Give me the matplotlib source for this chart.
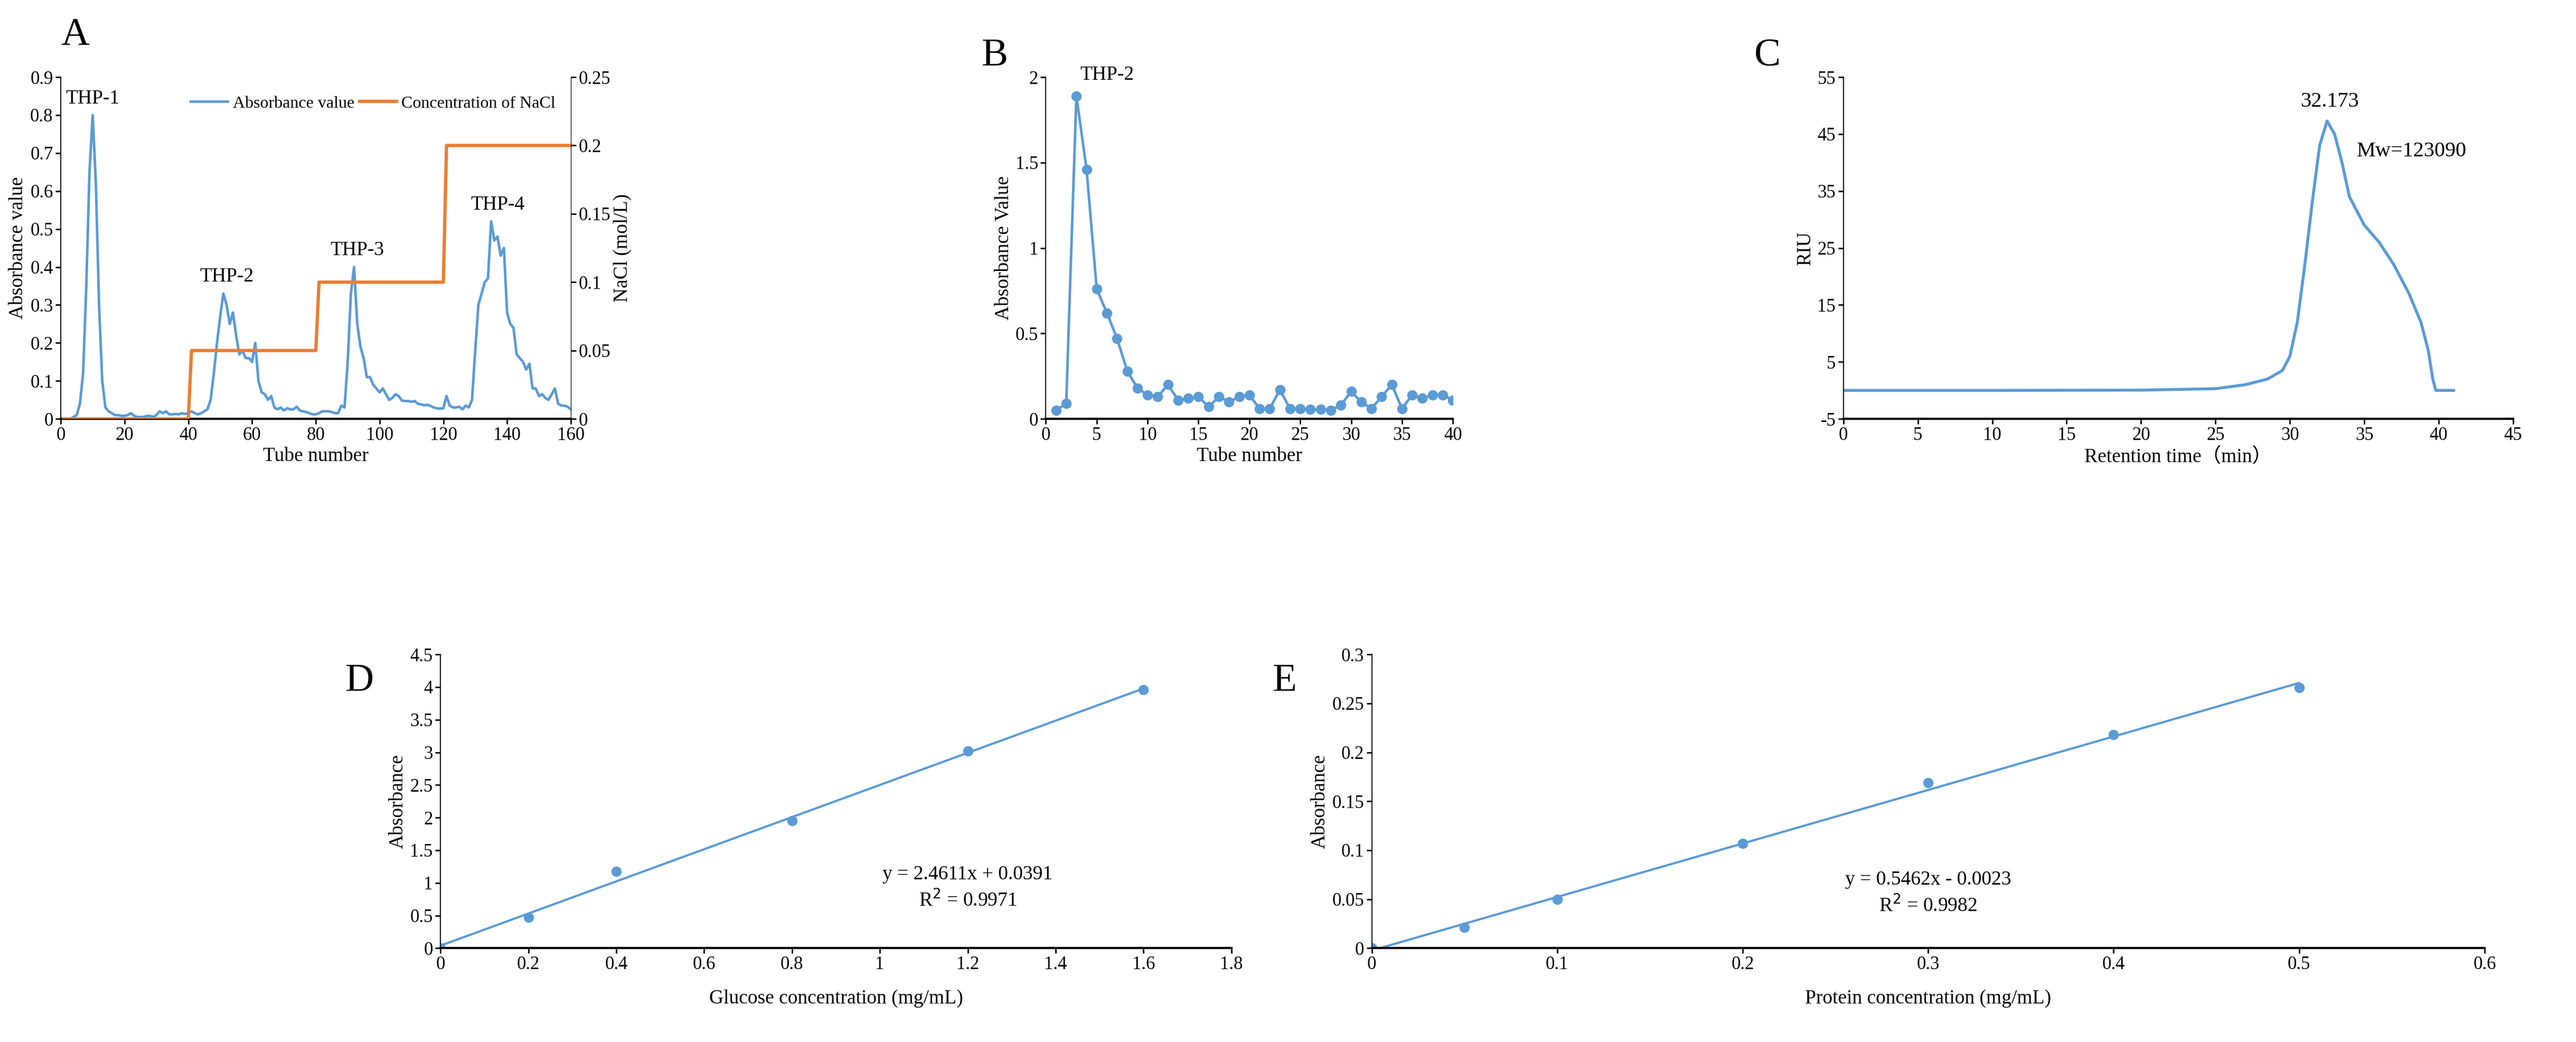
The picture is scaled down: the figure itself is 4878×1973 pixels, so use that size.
import numpy as np
import matplotlib
matplotlib.use('Agg')
import matplotlib.pyplot as plt

plt.rcParams['font.family'] = ['Liberation Serif', 'DejaVu Serif']
plt.rcParams['font.size'] = 24
plt.rcParams['axes.unicode_minus'] = False

BLUE = '#5B9BD5'
ORANGE = '#ED7D31'

# panel A: ion exchange elution
tube_a = np.arange(0, 161)
abs_a = [0.0, 0.0, 0.0, 0.0, 0.005, 0.01, 0.04, 0.12, 0.35, 0.65,
         0.80, 0.62, 0.30, 0.10, 0.03, 0.02, 0.015, 0.01, 0.01, 0.008,
         0.008, 0.01, 0.015, 0.008, 0.005, 0.005, 0.005, 0.008, 0.008, 0.005,
         0.01, 0.02, 0.015, 0.02, 0.012, 0.012, 0.013, 0.012, 0.015, 0.013,
         0.015, 0.02, 0.015, 0.012, 0.015, 0.02, 0.025, 0.05, 0.12, 0.20,
         0.27, 0.33, 0.30, 0.25, 0.28, 0.22, 0.17, 0.18, 0.16, 0.16,
         0.15, 0.20, 0.10, 0.07, 0.065, 0.05, 0.06, 0.03, 0.025, 0.03,
         0.022, 0.028, 0.025, 0.025, 0.032, 0.022, 0.02, 0.018, 0.015, 0.012,
         0.012, 0.015, 0.02, 0.02, 0.02, 0.018, 0.015, 0.015, 0.035, 0.03,
         0.15, 0.33, 0.40, 0.25, 0.19, 0.16, 0.11, 0.11, 0.09, 0.08,
         0.07, 0.08, 0.065, 0.05, 0.055, 0.065, 0.06, 0.048, 0.047, 0.047,
         0.045, 0.047, 0.04, 0.038, 0.036, 0.037, 0.034, 0.03, 0.028, 0.027,
         0.028, 0.06, 0.035, 0.03, 0.03, 0.032, 0.025, 0.035, 0.03, 0.05,
         0.18, 0.30, 0.33, 0.36, 0.37, 0.52, 0.47, 0.48, 0.43, 0.45,
         0.28, 0.25, 0.24, 0.17, 0.16, 0.15, 0.13, 0.145, 0.08, 0.08,
         0.06, 0.065, 0.055, 0.05, 0.065, 0.08, 0.04, 0.035, 0.035, 0.032,
         0.025]
nacl_tube = [1, 40, 41, 80, 81, 120, 121, 160]
nacl_conc = [0, 0, 0.05, 0.05, 0.1, 0.1, 0.2, 0.2]
peak_names = ['THP-1', 'THP-2', 'THP-3', 'THP-4']
peak_pos = [(10, 0.82), (52, 0.35), (93, 0.42), (137, 0.54)]

# panel B
tube_b = np.arange(1, 41)
abs_b = [0.05, 0.09, 1.89, 1.46, 0.76, 0.62, 0.47, 0.28, 0.18, 0.14,
         0.13, 0.20, 0.11, 0.12, 0.13, 0.07, 0.13, 0.10, 0.13, 0.14,
         0.06, 0.06, 0.17, 0.06, 0.06, 0.055, 0.055, 0.05, 0.08, 0.16,
         0.10, 0.06, 0.13, 0.20, 0.06, 0.14, 0.12, 0.14, 0.14, 0.11]

# panel C
time_c = [0, 10, 20, 25, 27, 28.5, 29.5, 30, 30.5, 31, 31.5, 32, 32.5, 33,
          33.5, 34, 35, 36, 37, 38, 38.8, 39.3, 39.6, 39.8, 41]
riu_c = [0, 0, 0.05, 0.3, 1, 2, 3.5, 6, 12, 22, 33, 43, 47.3, 45,
         40, 34, 29, 26, 22, 17, 12, 7, 2, 0, 0]

# panel D
glc_x = [0, 0.2, 0.4, 0.8, 1.2, 1.6]
glc_y = [0.0, 0.47, 1.18, 1.95, 3.02, 3.96]
glc_fit = (2.4611, 0.0391)

# panel E
pro_x = [0, 0.05, 0.1, 0.2, 0.3, 0.4, 0.5]
pro_y = [0.0, 0.021, 0.05, 0.107, 0.169, 0.218, 0.266]
pro_fit = (0.5462, -0.0023)

TICK = 25
LAB = 27


def clean(ax):
    ax.spines['top'].set_visible(False)
    ax.spines['right'].set_visible(False)
    ax.tick_params(direction='out', length=7, width=2, labelsize=TICK)
    ax.spines['left'].set_linewidth(1.5)
    ax.spines['bottom'].set_linewidth(3)


fig = plt.figure(figsize=(48.78, 19.73), dpi=100)

# A
ax = fig.add_axes([0.0236, 0.598, 0.198, 0.328])
ax.plot(tube_a, abs_a, color=BLUE, lw=3.5, label='Absorbance value')
ax.set_xlim(0, 160)
ax.set_ylim(0, 0.9)
ax.set_xticks(np.arange(0, 161, 20))
ax.set_yticks(np.arange(0, 0.91, 0.1))
ax.set_yticklabels(['0', '0.1', '0.2', '0.3', '0.4', '0.5', '0.6', '0.7', '0.8', '0.9'])
ax.set_xlabel('Tube number', fontsize=LAB)
ax.set_ylabel('Absorbance value', fontsize=LAB)
clean(ax)
for n, (px, py) in zip(peak_names, peak_pos):
    ax.text(px, py, n, ha='center', va='bottom', fontsize=LAB)
ax2 = ax.twinx()
ax2.plot(nacl_tube, nacl_conc, color=ORANGE, lw=4.5, label='Concentration of NaCl')
ax2.set_ylim(0, 0.25)
ax2.set_yticks([0, 0.05, 0.1, 0.15, 0.2, 0.25])
ax2.set_yticklabels(['0', '0.05', '0.1', '0.15', '0.2', '0.25'])
ax2.set_ylabel('NaCl (mol/L)', fontsize=LAB)
ax2.spines['top'].set_visible(False)
ax2.tick_params(labelsize=TICK, length=7, width=2)
h1, l1 = ax.get_legend_handles_labels()
h2, l2 = ax2.get_legend_handles_labels()
ax2.legend(h1 + h2, l1 + l2, loc='upper right', ncol=2, frameon=False,
           fontsize=23, handlelength=2.2, columnspacing=0.3, handletextpad=0.3,
           bbox_to_anchor=(1.0, 0.99))
fig.text(0.0236, 0.957, 'A', fontsize=54)

# B
ax = fig.add_axes([0.406, 0.598, 0.158, 0.328])
ax.plot(tube_b, abs_b, color=BLUE, lw=3.5, marker='o', ms=13)
ax.set_xlim(0, 40)
ax.set_ylim(0, 2)
ax.set_xticks(np.arange(0, 41, 5))
ax.set_yticks([0, 0.5, 1, 1.5, 2])
ax.set_yticklabels(['0', '0.5', '1', '1.5', '2'])
ax.set_xlabel('Tube number', fontsize=LAB)
ax.set_ylabel('Absorbance Value', fontsize=LAB)
ax.text(6, 1.96, 'THP-2', ha='center', va='bottom', fontsize=LAB)
clean(ax)
fig.text(0.381, 0.937, 'B', fontsize=54)

# C
ax = fig.add_axes([0.7156, 0.598, 0.260, 0.328])
ax.plot(time_c, riu_c, color=BLUE, lw=4)
ax.set_xlim(0, 45)
ax.set_ylim(-5, 55)
ax.set_xticks(np.arange(0, 46, 5))
ax.set_yticks(np.arange(-5, 56, 10))
ax.set_xlabel('Retention time\uff08min\uff09', fontsize=LAB,
              family=['Liberation Serif', 'Noto Sans CJK SC'])
ax.set_ylabel('RIU', fontsize=LAB)
ax.text(32.7, 49, '32.173', ha='center', va='bottom', fontsize=29)
ax.text(34.5, 42, 'Mw=123090', ha='left', va='center', fontsize=29)
clean(ax)
fig.text(0.681, 0.937, 'C', fontsize=54)

# D
ax = fig.add_axes([0.171, 0.090, 0.307, 0.282])
fx = np.array([0, 1.6])
ax.plot(fx, glc_fit[0] * fx + glc_fit[1], color=BLUE, lw=3)
ax.plot(glc_x, glc_y, 'o', color=BLUE, ms=13)
ax.set_xlim(0, 1.8)
ax.set_ylim(0, 4.5)
ax.set_xticks(np.arange(0, 1.81, 0.2))
ax.set_xticklabels(['0', '0.2', '0.4', '0.6', '0.8', '1', '1.2', '1.4', '1.6', '1.8'])
ax.set_yticks(np.arange(0, 4.51, 0.5))
ax.set_yticklabels(['0', '0.5', '1', '1.5', '2', '2.5', '3', '3.5', '4', '4.5'])
ax.set_xlabel('Glucose concentration (mg/mL)', fontsize=LAB, labelpad=22)
ax.set_ylabel('Absorbance', fontsize=LAB)
ax.text(1.2, 0.92, 'y = 2.4611x + 0.0391\nR$^2$ = 0.9971', ha='center', va='center',
        fontsize=LAB, linespacing=1.4)
clean(ax)
fig.text(0.134, 0.337, 'D', fontsize=54)

# E
ax = fig.add_axes([0.5325, 0.090, 0.432, 0.282])
fx = np.array([0, 0.5])
ax.plot(fx, pro_fit[0] * fx + pro_fit[1], color=BLUE, lw=3)
ax.plot(pro_x, pro_y, 'o', color=BLUE, ms=13)
ax.set_xlim(0, 0.6)
ax.set_ylim(0, 0.3)
ax.set_xticks(np.arange(0, 0.61, 0.1))
ax.set_xticklabels(['0', '0.1', '0.2', '0.3', '0.4', '0.5', '0.6'])
ax.set_yticks(np.arange(0, 0.31, 0.05))
ax.set_yticklabels(['0', '0.05', '0.1', '0.15', '0.2', '0.25', '0.3'])
ax.set_xlabel('Protein concentration (mg/mL)', fontsize=LAB, labelpad=22)
ax.set_ylabel('Absorbance', fontsize=LAB)
ax.text(0.3, 0.056, 'y = 0.5462x - 0.0023\nR$^2$ = 0.9982', ha='center', va='center',
        fontsize=LAB, linespacing=1.4)
clean(ax)
fig.text(0.494, 0.337, 'E', fontsize=54)

fig.savefig('out.png', dpi=100)
